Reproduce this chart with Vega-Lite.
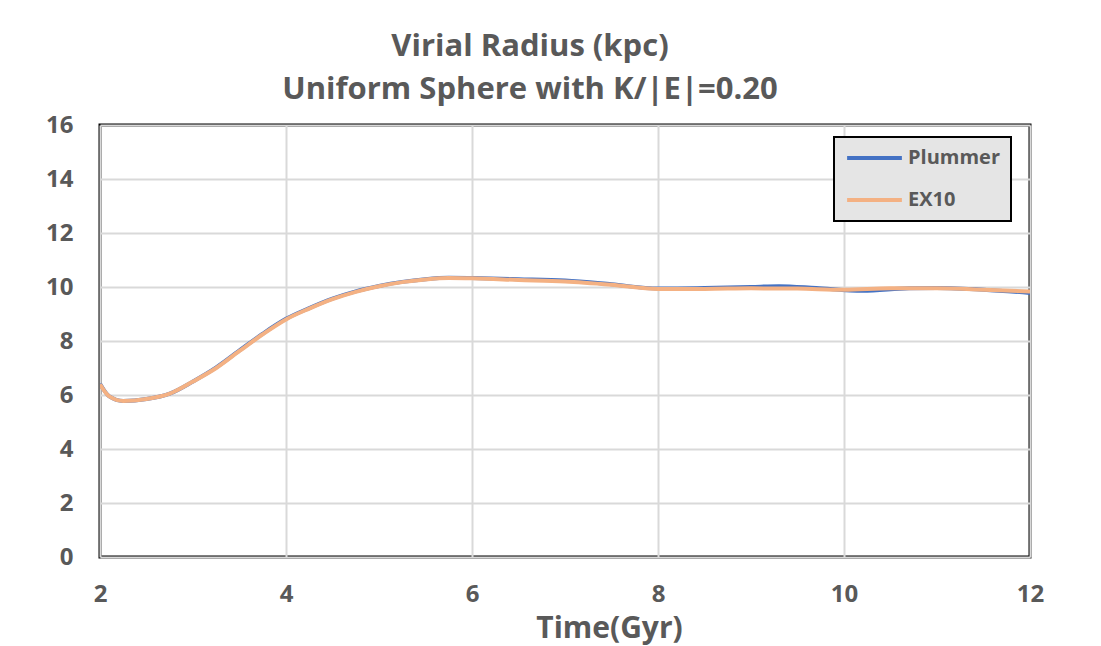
{
  "$schema": "https://vega.github.io/schema/vega-lite/v6.json",
  "width": 930,
  "height": 432,
  "autosize": {"type": "none"},
  "padding": {"left": 100, "top": 125, "right": 71, "bottom": 89},
  "background": "white",
  "config": {
    "font": "Open Sans",
    "view": {"stroke": "#000000", "strokeWidth": 3},
    "legend": {"strokeWidth": 2},
    "axis": {
      "labelFont": "Open Sans", "labelFontWeight": "bold", "labelFontSize": 24, "labelColor": "#595959",
      "gridColor": "#d9d9d9", "gridWidth": 2, "ticks": false, "domain": false,
      "titleFont": "Open Sans", "titleFontWeight": "bold", "titleColor": "#595959"
    }
  },
  "title": {
    "text": ["Virial Radius (kpc)", "Uniform Sphere with K/|E|=0.20"],
    "font": "Open Sans", "fontSize": 31, "fontWeight": "bold", "color": "#595959",
    "lineHeight": 43, "anchor": "middle", "dx": -35, "offset": 7
  },
  "data": {
    "values": [
      {"t": 2.0, "r": 6.42, "s": "Plummer"},
      {"t": 2.1, "r": 5.95, "s": "Plummer"},
      {"t": 2.25, "r": 5.78, "s": "Plummer"},
      {"t": 2.5, "r": 5.85, "s": "Plummer"},
      {"t": 2.75, "r": 6.05, "s": "Plummer"},
      {"t": 3.0, "r": 6.5, "s": "Plummer"},
      {"t": 3.25, "r": 7.02, "s": "Plummer"},
      {"t": 3.5, "r": 7.65, "s": "Plummer"},
      {"t": 3.75, "r": 8.27, "s": "Plummer"},
      {"t": 4.0, "r": 8.82, "s": "Plummer"},
      {"t": 4.25, "r": 9.22, "s": "Plummer"},
      {"t": 4.5, "r": 9.57, "s": "Plummer"},
      {"t": 4.75, "r": 9.84, "s": "Plummer"},
      {"t": 5.0, "r": 10.04, "s": "Plummer"},
      {"t": 5.25, "r": 10.19, "s": "Plummer"},
      {"t": 5.5, "r": 10.29, "s": "Plummer"},
      {"t": 5.75, "r": 10.34, "s": "Plummer"},
      {"t": 6.0, "r": 10.33, "s": "Plummer"},
      {"t": 6.5, "r": 10.29, "s": "Plummer"},
      {"t": 7.0, "r": 10.24, "s": "Plummer"},
      {"t": 7.5, "r": 10.1, "s": "Plummer"},
      {"t": 8.0, "r": 9.94, "s": "Plummer"},
      {"t": 8.5, "r": 9.96, "s": "Plummer"},
      {"t": 9.0, "r": 10.0, "s": "Plummer"},
      {"t": 9.3, "r": 10.03, "s": "Plummer"},
      {"t": 9.7, "r": 9.96, "s": "Plummer"},
      {"t": 10.2, "r": 9.86, "s": "Plummer"},
      {"t": 10.7, "r": 9.95, "s": "Plummer"},
      {"t": 11.0, "r": 9.96, "s": "Plummer"},
      {"t": 11.5, "r": 9.9, "s": "Plummer"},
      {"t": 12.0, "r": 9.78, "s": "Plummer"},
      {"t": 2.0, "r": 6.4, "s": "EX10"},
      {"t": 2.1, "r": 5.95, "s": "EX10"},
      {"t": 2.25, "r": 5.78, "s": "EX10"},
      {"t": 2.5, "r": 5.85, "s": "EX10"},
      {"t": 2.75, "r": 6.05, "s": "EX10"},
      {"t": 3.0, "r": 6.5, "s": "EX10"},
      {"t": 3.25, "r": 7.0, "s": "EX10"},
      {"t": 3.5, "r": 7.63, "s": "EX10"},
      {"t": 3.75, "r": 8.25, "s": "EX10"},
      {"t": 4.0, "r": 8.8, "s": "EX10"},
      {"t": 4.25, "r": 9.2, "s": "EX10"},
      {"t": 4.5, "r": 9.55, "s": "EX10"},
      {"t": 4.75, "r": 9.82, "s": "EX10"},
      {"t": 5.0, "r": 10.03, "s": "EX10"},
      {"t": 5.25, "r": 10.18, "s": "EX10"},
      {"t": 5.5, "r": 10.28, "s": "EX10"},
      {"t": 5.75, "r": 10.33, "s": "EX10"},
      {"t": 6.0, "r": 10.32, "s": "EX10"},
      {"t": 6.5, "r": 10.26, "s": "EX10"},
      {"t": 7.0, "r": 10.2, "s": "EX10"},
      {"t": 7.5, "r": 10.08, "s": "EX10"},
      {"t": 8.0, "r": 9.93, "s": "EX10"},
      {"t": 8.5, "r": 9.93, "s": "EX10"},
      {"t": 9.0, "r": 9.95, "s": "EX10"},
      {"t": 9.5, "r": 9.94, "s": "EX10"},
      {"t": 10.0, "r": 9.9, "s": "EX10"},
      {"t": 10.5, "r": 9.95, "s": "EX10"},
      {"t": 11.0, "r": 9.95, "s": "EX10"},
      {"t": 11.5, "r": 9.9, "s": "EX10"},
      {"t": 12.0, "r": 9.83, "s": "EX10"}
    ]
  },
  "mark": {"type": "line", "interpolate": "monotone", "strokeWidth": 4, "clip": true},
  "encoding": {
    "x": {
      "field": "t", "type": "quantitative",
      "scale": {"domain": [2, 12], "nice": false},
      "axis": {"values": [2, 4, 6, 8, 10, 12], "title": "Time(Gyr)", "titleFontSize": 30,
               "labelPadding": 25, "titlePadding": 7, "titleX": 509, "labelFlush": false}
    },
    "y": {
      "field": "r", "type": "quantitative",
      "scale": {"domain": [0, 16], "nice": false},
      "axis": {"values": [0, 2, 4, 6, 8, 10, 12, 14, 16], "title": null, "labelPadding": 27}
    },
    "color": {
      "field": "s", "type": "nominal",
      "scale": {"domain": ["Plummer", "EX10"], "range": ["#4472c4", "#f4b183"]},
      "legend": {
        "title": null, "orient": "none", "legendX": 734, "legendY": 12,
        "fillColor": "#e5e5e5", "strokeColor": "#000000",
        "padding": 11, "symbolType": "stroke", "symbolSize": 3000, "symbolStrokeWidth": 4,
        "clipHeight": 20,
        "labelFont": "Open Sans", "labelFontSize": 20, "labelFontWeight": "bold", "labelColor": "#595959",
        "labelOffset": 4, "rowPadding": 22, "labelLimit": 200
      }
    },
    "order": {"field": "t", "type": "quantitative"}
  }
}
